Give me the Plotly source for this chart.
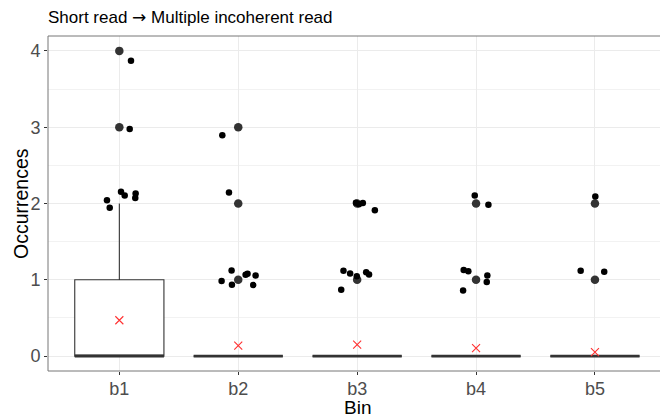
import plotly.graph_objects as go

# ---------------- data ----------------
bins = ["b1", "b2", "b3", "b4", "b5"]
q1 = [0, 0, 0, 0, 0]
medians = [0, 0, 0, 0, 0]
q3 = [1, 0, 0, 0, 0]
lower_fence = [0, 0, 0, 0, 0]
upper_fence = [2, 0, 0, 0, 0]
means = [0.47, 0.138, 0.152, 0.104, 0.052]

# boxplot outliers (bin index, value)
outlier_bin = [0, 0, 1, 1, 1, 2, 2, 3, 3, 4, 4]
outlier_val = [3, 4, 1, 2, 3, 1, 2, 1, 2, 1, 2]

# jittered observations (bin index, horizontal jitter, jittered value)
jit_bin = [0, 0, 0, 0, 0, 0, 0, 0,
           1, 1, 1, 1, 1, 1, 1, 1, 1,
           2, 2, 2, 2, 2, 2, 2, 2, 2, 2,
           3, 3, 3, 3, 3, 3, 3,
           4, 4, 4]
jit_dx = [0.098, 0.087, 0.014, 0.045, 0.137, 0.134, -0.104, -0.081,
          -0.134, -0.078, -0.056, -0.140, -0.053, 0.062, 0.078, 0.146, 0.126,
          -0.010, 0.015, 0.048, 0.149, -0.115, -0.059, -0.003, 0.076, 0.100, -0.134,
          -0.011, 0.104, -0.104, -0.065, 0.095, 0.090, -0.109,
          0.003, -0.120, 0.078]
jit_val = [3.872, 2.977, 2.154, 2.106, 2.132, 2.071, 2.044, 1.945,
           2.893, 2.145, 1.123, 0.983, 0.935, 1.065, 1.078, 1.057, 0.931,
           2.010, 1.990, 2.005, 1.910, 1.118, 1.083, 1.048, 1.100, 1.070, 0.870,
           2.106, 1.984, 1.127, 1.113, 1.057, 0.970, 0.861,
           2.093, 1.118, 1.105]

title_left = "Short read "
title_arrow = "\u2192"
title_right = " Multiple incoherent read"
x_title = "Bin"
y_title = "Occurrences"
y_ticks = [0, 1, 2, 3, 4]

# ---------------- figure ----------------
pos = [i + 1 for i in range(len(bins))]
box_w = 0.75
dark = "#333333"
font = "Liberation Sans, Arial, sans-serif"

fig = go.Figure()

fig.add_trace(go.Box(
    x=pos, q1=q1, median=medians, q3=q3,
    lowerfence=lower_fence, upperfence=upper_fence,
    width=box_w, whiskerwidth=0,
    fillcolor="white", line=dict(color=dark, width=1.1),
    boxpoints=False, showlegend=False, hoverinfo="skip",
))

# thick median segments (ggplot style)
for p, m in zip(pos, medians):
    fig.add_trace(go.Scatter(
        x=[p - box_w / 2, p + box_w / 2], y=[m, m], mode="lines",
        line=dict(color=dark, width=2.8), showlegend=False, hoverinfo="skip",
    ))

# outliers
fig.add_trace(go.Scatter(
    x=[pos[b] for b in outlier_bin], y=outlier_val, mode="markers",
    marker=dict(color=dark, size=8.5, line=dict(width=0)),
    showlegend=False,
))

# jitter points
fig.add_trace(go.Scatter(
    x=[pos[b] + d for b, d in zip(jit_bin, jit_dx)], y=jit_val, mode="markers",
    marker=dict(color="black", size=6.5, line=dict(width=0)),
    showlegend=False,
))

# means
fig.add_trace(go.Scatter(
    x=pos, y=means, mode="markers",
    marker=dict(symbol="x-thin-open", color="#ff3030", size=8,
                line=dict(color="#ff3030", width=1.1)),
    showlegend=False,
))

plot_left, plot_top, plot_bottom = 47.5, 35.5, 371.5
W, H = 660, 418
px_per_unit = 119.0
x0 = 0.4
x1 = x0 + (W - plot_left) / px_per_unit
panel_mid_x = (x0 + (x0 + 5.2)) / 2  # centre of full (partly off-screen) panel

title_html = (title_left + '<span style="font-family:DejaVu Sans">' + title_arrow
              + '</span>' + title_right)

fig.update_layout(
    width=W, height=H,
    margin=dict(l=plot_left, r=0, t=plot_top, b=H - plot_bottom, pad=0),
    paper_bgcolor="white", plot_bgcolor="white",
    font=dict(family=font, color="black"),
    title=dict(text=title_html, x=48 / W, xref="container", xanchor="left",
               y=1 - 17 / H, yref="container", yanchor="middle",
               font=dict(size=17, color="black", family=font)),
    xaxis=dict(
        range=[x0, x1], tickvals=pos, ticktext=bins,
        showgrid=True, gridcolor="#ebebeb", gridwidth=1,
        zeroline=False, showline=False,
        ticks="outside", ticklen=3, tickcolor=dark, tickwidth=1,
        ticklabelstandoff=-2,
        tickfont=dict(size=18, color="#4d4d4d", family=font),
    ),
    yaxis=dict(
        range=[-0.195, 4.195], tickvals=y_ticks,
        showgrid=True, gridcolor="#ebebeb", gridwidth=1,
        minor=dict(dtick=0.5, showgrid=True, gridcolor="#f2f2f2", gridwidth=0.6, ticks=""),
        zeroline=False, showline=False,
        ticks="outside", ticklen=3, tickcolor=dark, tickwidth=1,
        tickfont=dict(size=18, color="#4d4d4d", family=font),
    ),
    annotations=[
        dict(text=x_title, x=panel_mid_x, xref="x", y=408, yref="paper",
             showarrow=False, font=dict(size=19, color="black", family=font),
             xanchor="center", yanchor="middle"),
        dict(text=y_title, x=20, xref="paper", y=0.5, yref="paper",
             showarrow=False, textangle=-90, font=dict(size=19.5, color="black", family=font),
             xanchor="center", yanchor="middle"),
    ],
    shapes=[dict(type="rect", xref="paper", yref="paper", x0=0, x1=1.05, y0=0, y1=1,
                 line=dict(color="#777777", width=1), layer="above")],
)

# convert pixel positions of axis titles into paper coordinates
plot_w = W - plot_left
plot_h = plot_bottom - plot_top
fig.layout.annotations[0].y = (plot_bottom - 408) / plot_h
fig.layout.annotations[1].x = (20 - plot_left) / plot_w

fig.write_html("out.html")
